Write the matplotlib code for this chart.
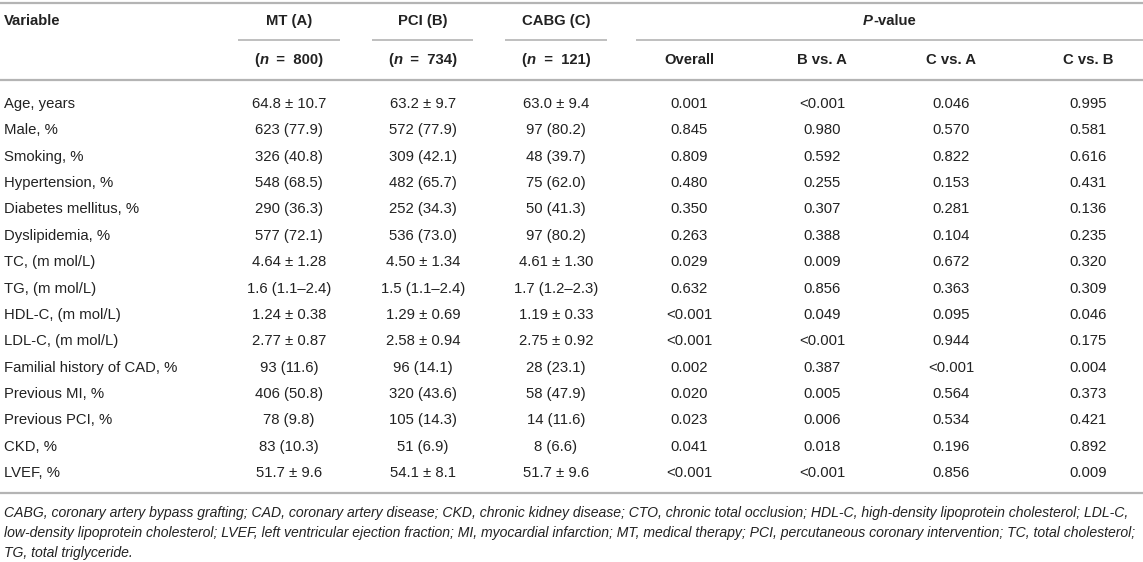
import matplotlib
matplotlib.use("Agg")
import matplotlib.pyplot as plt

plt.rcParams['font.family'] = ['Liberation Sans', 'DejaVu Sans']

variables = ["Age, years", "Male, %", "Smoking, %", "Hypertension, %", "Diabetes mellitus, %",
             "Dyslipidemia, %", "TC, (m mol/L)", "TG, (m mol/L)", "HDL-C, (m mol/L)",
             "LDL-C, (m mol/L)", "Familial history of CAD, %", "Previous MI, %",
             "Previous PCI, %", "CKD, %", "LVEF, %"]
mt = ["64.8 ± 10.7", "623 (77.9)", "326 (40.8)", "548 (68.5)", "290 (36.3)", "577 (72.1)",
      "4.64 ± 1.28", "1.6 (1.1–2.4)", "1.24 ± 0.38", "2.77 ± 0.87", "93 (11.6)",
      "406 (50.8)", "78 (9.8)", "83 (10.3)", "51.7 ± 9.6"]
pci = ["63.2 ± 9.7", "572 (77.9)", "309 (42.1)", "482 (65.7)", "252 (34.3)", "536 (73.0)",
       "4.50 ± 1.34", "1.5 (1.1–2.4)", "1.29 ± 0.69", "2.58 ± 0.94", "96 (14.1)",
       "320 (43.6)", "105 (14.3)", "51 (6.9)", "54.1 ± 8.1"]
cabg = ["63.0 ± 9.4", "97 (80.2)", "48 (39.7)", "75 (62.0)", "50 (41.3)", "97 (80.2)",
        "4.61 ± 1.30", "1.7 (1.2–2.3)", "1.19 ± 0.33", "2.75 ± 0.92", "28 (23.1)",
        "58 (47.9)", "14 (11.6)", "8 (6.6)", "51.7 ± 9.6"]
p_overall = ["0.001", "0.845", "0.809", "0.480", "0.350", "0.263", "0.029", "0.632",
             "<0.001", "<0.001", "0.002", "0.020", "0.023", "0.041", "<0.001"]
p_b_vs_a = ["<0.001", "0.980", "0.592", "0.255", "0.307", "0.388", "0.009", "0.856",
            "0.049", "<0.001", "0.387", "0.005", "0.006", "0.018", "<0.001"]
p_c_vs_a = ["0.046", "0.570", "0.822", "0.153", "0.281", "0.104", "0.672", "0.363",
            "0.095", "0.944", "<0.001", "0.564", "0.534", "0.196", "0.856"]
p_c_vs_b = ["0.995", "0.581", "0.616", "0.431", "0.136", "0.235", "0.320", "0.309",
            "0.046", "0.175", "0.004", "0.373", "0.421", "0.892", "0.009"]

groups = ["MT (A)", "PCI (B)", "CABG (C)"]
group_n = ["800", "734", "121"]
p_heads = ["Overall", "B vs. A", "C vs. A", "C vs. B"]

footnote = [
    "CABG, coronary artery bypass grafting; CAD, coronary artery disease; CKD, chronic kidney disease; "
    "CTO, chronic total occlusion; HDL-C, high-density lipoprotein cholesterol; LDL-C,",
    "low-density lipoprotein cholesterol; LVEF, left ventricular ejection fraction; MI, myocardial "
    "infarction; MT, medical therapy; PCI, percutaneous coronary intervention; TC, total cholesterol;",
    "TG, total triglyceride.",
]

W, H = 1143, 562
fig = plt.figure(figsize=(W / 100, H / 100), dpi=100)
ax = fig.add_axes([0, 0, 1, 1])
ax.set_xlim(0, W)
ax.set_ylim(H, 0)
ax.axis('off')

txt = '#222222'
line_c = '#b4b4b4'
fs = 10.7

col_x = [289, 423, 556, 689, 822, 951, 1088]
under = [(238, 340), (372, 473), (505, 607)]
p_span = (636, 1143)

y_head1, y_ul, y_head2, y_line = 21, 40, 60, 80
y_row0, row_h = 104, 26.36


def runs(x, y, pieces, size=fs):
    # draw several styled pieces centred together at x
    r = fig.canvas.get_renderer()
    items = []
    for s, style in pieces:
        t = ax.text(0, y, s, fontsize=size, color=txt, fontweight='bold',
                    fontstyle=style, va='center', ha='left')
        w = t.get_window_extent(renderer=r).width
        items.append((t, w))
    total = sum(w for _, w in items)
    cur = x - total / 2
    for t, w in items:
        t.set_x(cur)
        cur += w


# rules
ax.plot([0, W], [3, 3], color=line_c, lw=1.6, solid_capstyle='butt')
ax.plot([0, W], [y_line, y_line], color=line_c, lw=1.6, solid_capstyle='butt')
for a, b in under:
    ax.plot([a, b], [y_ul, y_ul], color=line_c, lw=1.2, solid_capstyle='butt')
ax.plot(p_span, [y_ul, y_ul], color=line_c, lw=1.2, solid_capstyle='butt')

# header
ax.text(4, y_head1, "Variable", fontsize=fs, fontweight='bold', color=txt, va='center', ha='left')
for i, g in enumerate(groups):
    ax.text(col_x[i], y_head1, g, fontsize=fs, fontweight='bold', color=txt, va='center', ha='center')
    runs(col_x[i], y_head2, [("(", 'normal'), ("n", 'italic'), ("  =  " + group_n[i] + ")", 'normal')])
runs((p_span[0] + p_span[1]) / 2, y_head1, [("P", 'italic'), ("-value", 'normal')])
for j, h in enumerate(p_heads):
    ax.text(col_x[3 + j], y_head2, h, fontsize=fs, fontweight='bold', color=txt, va='center', ha='center')

# body
cols = [mt, pci, cabg, p_overall, p_b_vs_a, p_c_vs_a, p_c_vs_b]
for i, v in enumerate(variables):
    y = y_row0 + i * row_h
    ax.text(4, y, v, fontsize=fs, color=txt, va='center', ha='left')
    for c, vals in enumerate(cols):
        ax.text(col_x[c], y, vals[i], fontsize=fs, color=txt, va='center', ha='center')

y_bottom = y_row0 + (len(variables) - 1) * row_h + 20
ax.plot([0, W], [y_bottom, y_bottom], color=line_c, lw=1.6, solid_capstyle='butt')

for k, line in enumerate(footnote):
    ax.text(4, y_bottom + 20 + k * 20, line, fontsize=10.1, fontstyle='italic',
            color=txt, va='center', ha='left')

fig.savefig('out.png', dpi=100, facecolor='white')
